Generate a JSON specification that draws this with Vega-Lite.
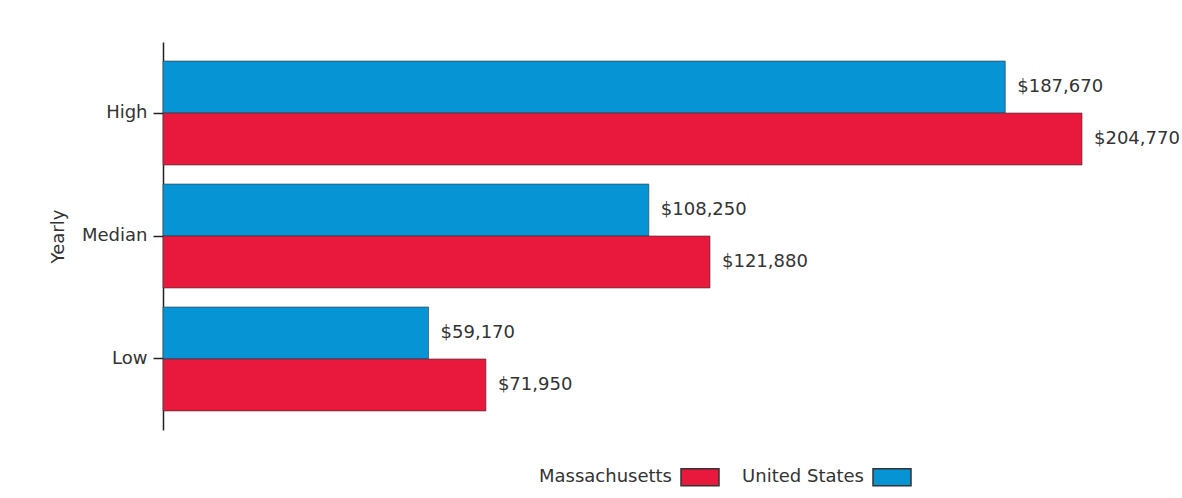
{
  "$schema": "https://vega.github.io/schema/vega-lite/v6.json",
  "width": 1019,
  "height": 388,
  "autosize": "none",
  "padding": {"left": 163, "top": 42, "right": 0, "bottom": 68},
  "background": "white",
  "config": {"view": {"stroke": null}, "font": "DejaVu Sans"},
  "data": {
    "values": [
      {"level": "High", "region": "United States", "wage": 187670},
      {"level": "High", "region": "Massachusetts", "wage": 204770},
      {"level": "Median", "region": "United States", "wage": 108250},
      {"level": "Median", "region": "Massachusetts", "wage": 121880},
      {"level": "Low", "region": "United States", "wage": 59170},
      {"level": "Low", "region": "Massachusetts", "wage": 71950}
    ]
  },
  "encoding": {
    "y": {
      "field": "level",
      "type": "nominal",
      "sort": ["High", "Median", "Low"],
      "scale": {"paddingInner": 0.155, "paddingOuter": 0.155},
      "axis": {
        "title": "Yearly",
        "titleFontSize": 18,
        "titleFontWeight": "normal",
        "titleColor": "#333",
        "titlePadding": 14,
        "labelFontSize": 18,
        "labelColor": "#333",
        "labelPadding": 6,
        "tickSize": 10,
        "tickColor": "#222",
        "domainColor": "#222",
        "domainWidth": 1.5,
        "tickWidth": 1.5,
        "grid": false
      }
    },
    "yOffset": {
      "field": "region",
      "type": "nominal",
      "sort": ["United States", "Massachusetts"],
      "scale": {"paddingInner": 0, "paddingOuter": 0}
    },
    "x": {
      "field": "wage",
      "type": "quantitative",
      "scale": {"domain": [0, 227050], "nice": false, "zero": true},
      "axis": null
    }
  },
  "layer": [
    {
      "mark": {"type": "bar", "stroke": "#333", "strokeOpacity": 0.6, "strokeWidth": 1},
      "encoding": {
        "color": {
          "field": "region",
          "type": "nominal",
          "scale": {"domain": ["Massachusetts", "United States"], "range": ["#e8193c", "#0794d4"]},
          "legend": {
            "orient": "none",
            "legendX": 517,
            "legendY": 415,
            "direction": "horizontal",
            "title": null,
            "symbolType": "M-1,-0.45H1V0.45H-1Z",
            "symbolSize": 1444,
            "symbolStrokeColor": "#333",
            "symbolStrokeWidth": 1.5,
            "symbolOpacity": 1,
            "labelAlign": "right",
            "labelOffset": -48,
            "labelFontSize": 18,
            "labelColor": "#333",
            "columnPadding": 20
          }
        }
      }
    },
    {
      "mark": {"type": "text", "align": "left", "baseline": "middle", "dx": 12, "fontSize": 18, "color": "#333"},
      "encoding": {"text": {"field": "wage", "type": "quantitative", "format": "$,.0f"}}
    }
  ]
}
